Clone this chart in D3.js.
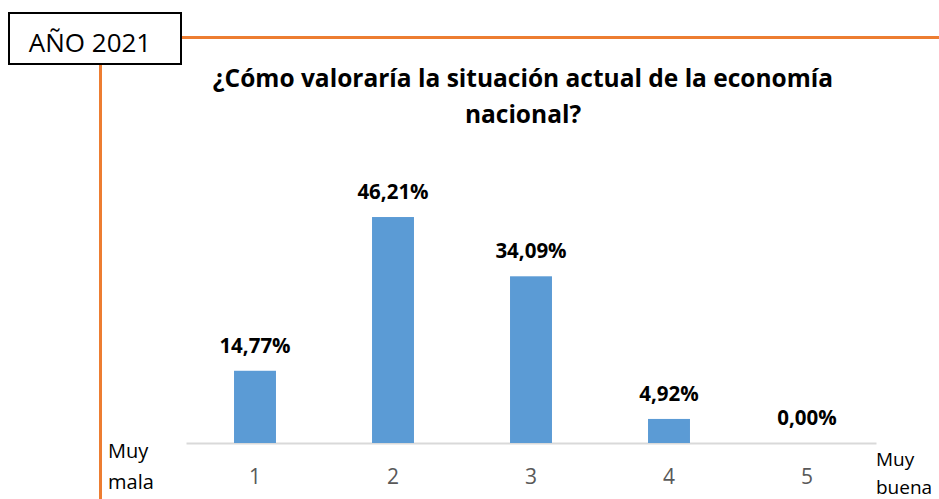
<!DOCTYPE html>
<html>
<head>
<meta charset="utf-8">
<script src="https://cdn.jsdelivr.net/npm/d3@7"></script>
<style>
  html, body { margin: 0; padding: 0; background: #fff; }
  svg { display: block; }
  text { font-family: "Open Sans", sans-serif; }
</style>
</head>
<body>
<script>
// Survey answers: rating of the national economy, 1 (very bad) to 5 (very good)
const categories = ["1", "2", "3", "4", "5"];
const percentages = [14.77, 46.21, 34.09, 4.92, 0.00];
const valueLabels = ["14,77%", "46,21%", "34,09%", "4,92%", "0,00%"];
const titleLines = ["¿Cómo valoraría la situación actual de la economía", "nacional?"];
const yearLabel = "AÑO 2021";
const lowEndLabel = ["Muy", "mala"];
const highEndLabel = ["Muy", "buena"];

const W = 939, H = 499;
const svg = d3.select("body").append("svg").attr("width", W).attr("height", H);

const orange = "#ED7D31";
const blue = "#5B9BD5";

// Decorative frame lines
svg.append("line").attr("x1", 181).attr("x2", W).attr("y1", 37.5).attr("y2", 37.5)
  .attr("stroke", orange).attr("stroke-width", 3);
svg.append("line").attr("x1", 100.5).attr("x2", 100.5).attr("y1", 64).attr("y2", H)
  .attr("stroke", orange).attr("stroke-width", 3);

// Year box
svg.append("rect").attr("x", 9).attr("y", 13).attr("width", 172).attr("height", 51)
  .attr("fill", "#fff").attr("stroke", "#000").attr("stroke-width", 2);
svg.append("text").attr("x", 90).attr("y", 52).attr("text-anchor", "middle")
  .attr("font-size", 26).attr("fill", "#000").text(yearLabel);

// Title
svg.append("g").selectAll("text").data(titleLines).join("text")
  .attr("x", 523).attr("y", (d, i) => 87 + i * 36)
  .attr("text-anchor", "middle").attr("font-size", 24.5).attr("font-weight", "bold")
  .attr("fill", "#000").text(d => d);

// Scales
const x = d3.scaleBand().domain(categories).range([186, 876]).paddingInner(0.696).paddingOuter(0.348);
const y = d3.scaleLinear().domain([0, 50]).range([443, 443 - 50 * 4.89]);

// Axis
const xAxis = svg.append("g").attr("transform", "translate(0,443)")
  .call(d3.axisBottom(x).tickSize(0).tickPadding(25));
xAxis.select(".domain").attr("stroke", "#D9D9D9").attr("stroke-width", 2);
xAxis.selectAll("text").attr("font-size", 21).attr("fill", "#595959")
  .attr("font-family", "'Open Sans', sans-serif").attr("dy", null).attr("y", 41);

// Bars
svg.append("g").selectAll("rect").data(percentages).join("rect")
  .attr("x", (d, i) => x(categories[i]))
  .attr("y", d => y(d))
  .attr("width", x.bandwidth())
  .attr("height", d => y(0) - y(d))
  .attr("fill", blue);

// Value labels
svg.append("g").selectAll("text").data(percentages).join("text")
  .attr("x", (d, i) => x(categories[i]) + x.bandwidth() / 2)
  .attr("y", d => y(d) - 18)
  .attr("text-anchor", "middle").attr("font-size", 20.5).attr("font-weight", "bold")
  .attr("fill", "#000").text((d, i) => valueLabels[i]);

// Scale end labels
svg.append("g").selectAll("text").data(lowEndLabel).join("text")
  .attr("x", 108).attr("y", (d, i) => 458 + i * 31)
  .attr("font-size", 20).attr("fill", "#000").text(d => d);
svg.append("g").selectAll("text").data(highEndLabel).join("text")
  .attr("x", 876).attr("y", (d, i) => 466 + i * 28)
  .attr("font-size", 19).attr("fill", "#000").text(d => d);
</script>
</body>
</html>
